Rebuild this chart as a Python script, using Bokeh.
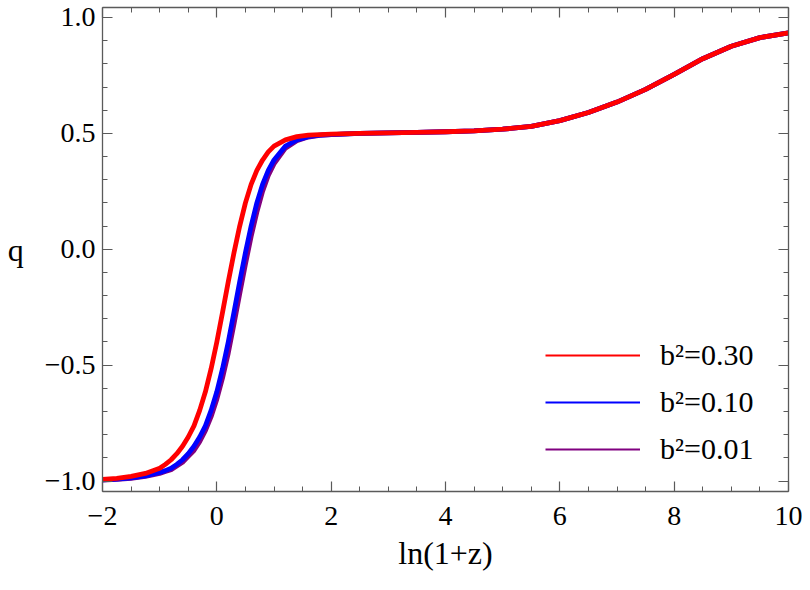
from bokeh.plotting import figure
from bokeh.models import (Range1d, LinearAxis, SingleIntervalTicker, Legend, LegendItem,
                          CustomJSTickFormatter)
from bokeh.embed import file_html
from bokeh.resources import INLINE

# ---- data ----
ln1z = [-2.0, -1.75, -1.5, -1.25, -1.0, -0.9, -0.8, -0.7, -0.6, -0.5, -0.4, -0.3, -0.2, -0.1, 0.0,
        0.1, 0.2, 0.3, 0.4, 0.5, 0.6, 0.7, 0.8, 0.9, 1.0, 1.2, 1.4, 1.6, 1.8, 2.0,
        2.5, 3.0, 3.5, 4.0, 4.5, 5.0, 5.5, 6.0, 6.5, 7.0, 7.5, 8.0, 8.5, 9.0, 9.5, 10.0]

q_b030 = [-0.993, -0.988, -0.980, -0.967, -0.945, -0.928, -0.908, -0.882, -0.850, -0.810, -0.762, -0.695,
          -0.615, -0.515, -0.400, -0.272, -0.140, -0.015, 0.100, 0.200, 0.280, 0.340, 0.385, 0.420, 0.445,
          0.472, 0.486, 0.492, 0.495, 0.497,
          0.500, 0.502, 0.504, 0.507, 0.511, 0.518, 0.530, 0.555, 0.590, 0.635, 0.690, 0.755, 0.822, 0.876, 0.913, 0.934]

q_b010 = [-0.995, -0.992, -0.986, -0.978, -0.963, -0.955, -0.945, -0.928, -0.908, -0.882, -0.850, -0.810,
          -0.762, -0.695, -0.615, -0.515, -0.400, -0.272, -0.140, -0.015, 0.100, 0.200, 0.280, 0.340, 0.385,
          0.445, 0.472, 0.486, 0.492, 0.495,
          0.500, 0.502, 0.504, 0.507, 0.511, 0.518, 0.530, 0.555, 0.590, 0.635, 0.690, 0.755, 0.822, 0.876, 0.913, 0.934]

q_b001 = [-0.996, -0.993, -0.988, -0.980, -0.967, -0.959, -0.951, -0.935, -0.919, -0.893, -0.868, -0.830,
          -0.782, -0.722, -0.647, -0.555, -0.448, -0.323, -0.192, -0.065, 0.055, 0.160, 0.250, 0.318, 0.368,
          0.436, 0.468, 0.484, 0.491, 0.495,
          0.500, 0.502, 0.504, 0.507, 0.511, 0.518, 0.530, 0.555, 0.590, 0.635, 0.690, 0.755, 0.822, 0.876, 0.913, 0.934]

series_labels = ["b\u00b2=0.30", "b\u00b2=0.10", "b\u00b2=0.01"]
series_colors = ["#ff0000", "#0000ff", "#800080"]

x_ticks = [-2, 0, 2, 4, 6, 8, 10]
x_tick_labels = ["\u22122", "0", "2", "4", "6", "8", "10"]
y_ticks = [-1.0, -0.5, 0.0, 0.5, 1.0]
y_tick_labels = ["\u22121.0", "\u22120.5", "0.0", "0.5", "1.0"]

FONT = "Liberation Serif"
FRAME = "#5a5a5a"
NAN = float("nan")

p = figure(width=802, height=574, output_backend="svg", toolbar_location=None,
           x_range=Range1d(-2, 10), y_range=Range1d(-1.045, 1.043),
           min_border_left=102, min_border_right=14, min_border_top=7, min_border_bottom=83,
           x_axis_label="ln(1+z)", y_axis_label="q")
p.grid.visible = False
p.outline_line_color = None
p.background_fill_color = "white"

# curves: purple under blue under red
r001 = p.line(ln1z, q_b001, line_color=series_colors[2], line_width=4.8, line_join="round")
r010 = p.line(ln1z, q_b010, line_color=series_colors[1], line_width=4.8, line_join="round")
r030 = p.line(ln1z, q_b030, line_color=series_colors[0], line_width=4.8, line_join="round")

# thin legend samples (no visible data)
l030 = p.line([NAN, NAN], [NAN, NAN], line_color=series_colors[0], line_width=2.2)
l010 = p.line([NAN, NAN], [NAN, NAN], line_color=series_colors[1], line_width=2.2)
l001 = p.line([NAN, NAN], [NAN, NAN], line_color=series_colors[2], line_width=2.2)

def style_axis(ax, ticker):
    ax.ticker = ticker
    ax.axis_line_color = FRAME
    ax.axis_line_width = 1.3
    ax.major_tick_line_color = FRAME
    ax.minor_tick_line_color = FRAME
    ax.major_tick_line_width = 1.2
    ax.minor_tick_line_width = 1.0
    ax.major_tick_in = 10
    ax.major_tick_out = 0
    ax.minor_tick_in = 5
    ax.minor_tick_out = 0
    ax.major_label_text_font = FONT
    ax.major_label_text_color = "black"
    ax.axis_label_text_font = FONT
    ax.axis_label_text_font_style = "normal"
    ax.axis_label_text_color = "black"

xa = p.xaxis[0]
style_axis(xa, SingleIntervalTicker(interval=2, num_minor_ticks=4))
xa.major_label_overrides = dict(zip(x_ticks, x_tick_labels))
xa.major_label_text_font_size = "28px"
xa.major_label_standoff = 15
xa.axis_label_text_font_size = "32px"
xa.axis_label_standoff = 7

ya = p.yaxis[0]
style_axis(ya, SingleIntervalTicker(interval=0.5, num_minor_ticks=5))
ya.major_label_overrides = dict(zip(y_ticks, y_tick_labels))
ya.major_label_text_font_size = "28px"
ya.major_label_standoff = 7
ya.axis_label_text_font_size = "32px"
ya.axis_label_orientation = "horizontal"
ya.axis_label_standoff = 18

blank = CustomJSTickFormatter(code="return ''")
top = LinearAxis(formatter=blank, major_label_standoff=0)
style_axis(top, SingleIntervalTicker(interval=2, num_minor_ticks=4))
p.add_layout(top, "above")
right = LinearAxis(formatter=blank, major_label_standoff=0)
style_axis(right, SingleIntervalTicker(interval=0.5, num_minor_ticks=5))
p.add_layout(right, "right")

legend = Legend(items=[LegendItem(label=series_labels[0], renderers=[l030]),
                       LegendItem(label=series_labels[1], renderers=[l010]),
                       LegendItem(label=series_labels[2], renderers=[l001])],
                location=(443, 22))
legend.background_fill_alpha = 0
legend.border_line_color = None
legend.padding = 0
legend.margin = 0
legend.spacing = 7
legend.glyph_width = 95
legend.glyph_height = 40
legend.label_height = 40
legend.label_standoff = 20
legend.label_text_font = FONT
legend.label_text_font_size = "30px"
legend.label_text_color = "black"
p.add_layout(legend, "center")

open("out.html", "w").write(file_html(p, INLINE))
